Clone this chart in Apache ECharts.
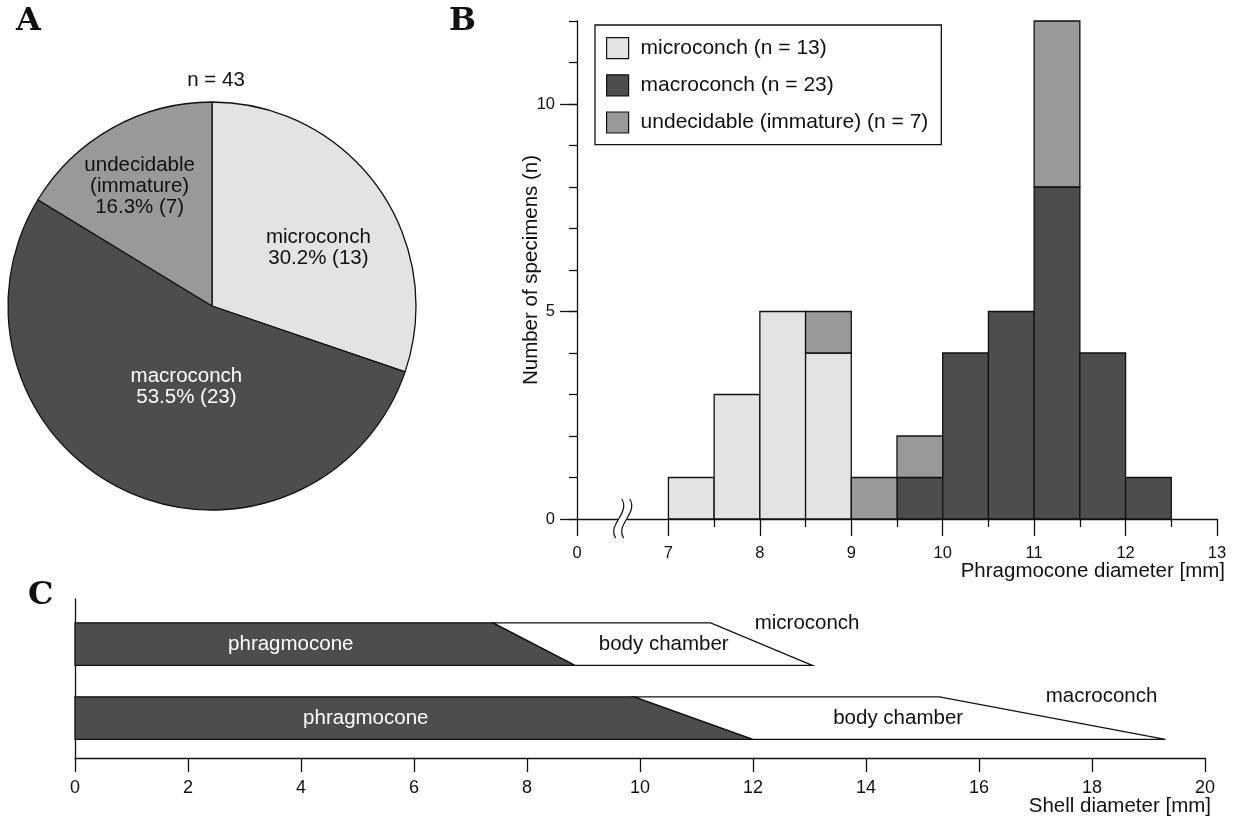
<!DOCTYPE html>
<html><head><meta charset="utf-8">
<script src="https://cdn.jsdelivr.net/npm/echarts@6/dist/echarts.min.js"></script>
<style>html,body{margin:0;padding:0;background:#fff}#c{width:1238px;height:823px}</style>
</head><body><div id="c"></div>
<script>
// ---------- Panel A: pie ----------
const pieNames = ['microconch', 'macroconch', 'undecidable (immature)'];
const pieCounts = [13, 23, 7];

// ---------- Panel B: histogram ----------
const binStarts = [7, 7.5, 8, 8.5, 9, 9.5, 10, 10.5, 11, 11.5, 12];
const binWidth = 0.5;
const microCounts = [1, 3, 5, 4, 0, 0, 0, 0, 0, 0, 0];
const macroCounts = [0, 0, 0, 0, 0, 1, 4, 5, 8, 4, 1];
const undecCounts = [0, 0, 0, 1, 1, 1, 0, 0, 4, 0, 0];
const diamTickValues = [0, 7, 8, 9, 10, 11, 12, 13];
const diamTickLabels = ['0', '7', '8', '9', '10', '11', '12', '13'];
const diamMinorTicks = [7.5, 8.5, 9.5, 10.5, 11.5, 12.5];
const countTickValues = [0, 5, 10];
const countTickLabels = ['0', '5', '10'];
const countMinorTicks = [0, 1, 2, 3, 4, 5, 6, 7, 8, 9, 10, 11, 12];

// ---------- Panel C: shell diagram ----------
const shellTypes = ['microconch', 'macroconch'];
const phragEndTop = [7.4, 9.9];
const phragEndBottom = [8.85, 12.0];
const shellEndTop = [11.25, 15.3];
const shellEndBottom = [13.05, 19.3];
const shellTicks = [0, 2, 4, 6, 8, 10, 12, 14, 16, 18, 20];

// ---------- styles ----------
const FONT = '"Liberation Sans", Arial, Helvetica, sans-serif';
const LETTER_FONT = 'bold 32px "DejaVu Serif", serif';
const INK = '#111';
const C_MICRO = '#e3e3e3', C_MACRO = '#4d4d4d', C_UNDEC = '#999999';
const sum = a => a.reduce((s, v) => s + v, 0);
// the axis break: diameter 0 is drawn one unit left of 7
const axisPos = v => (v === 0 ? 6 : v);

const chart = echarts.init(document.getElementById('c'), null, {renderer: 'canvas'});

function histSeries(label, color, counts, base) {
  const data = [];
  binStarts.forEach((s, i) => {
    if (counts[i] > 0) data.push([s, s + binWidth, base[i], base[i] + counts[i]]);
  });
  return {
    type: 'custom', name: label + ' (n = ' + sum(counts) + ')',
    xAxisIndex: 0, yAxisIndex: 0, data,
    itemStyle: {color},
    encode: {x: [0, 1], y: [2, 3]},
    renderItem(params, api) {
      const p0 = api.coord([api.value(0), api.value(2)]);
      const p1 = api.coord([api.value(1), api.value(3)]);
      return {type: 'rect',
        shape: {x: p0[0], y: p1[1], width: p1[0] - p0[0], height: p0[1] - p1[1]},
        style: {fill: color, stroke: INK, lineWidth: 1.3}};
    }
  };
}
const zeros = binStarts.map(() => 0);
const macroBase = microCounts.slice();
const undecBase = microCounts.map((v, i) => v + macroCounts[i]);

const pieColors = [C_MICRO, C_MACRO, C_UNDEC];
const pieLabelColors = [INK, '#fff', INK];
const pieLabelNudge = [[21, 3], [19, -14], [-21, -28]];

const rowCenter = i => 3.08 - 2 * i;
const rowHalf = 0.575;

const option = {
  animation: false,
  textStyle: {fontFamily: FONT},
  graphic: [
    {type: 'text', x: 16, y: 22, style: {text: 'A', font: LETTER_FONT, fill: INK, align: 'left', verticalAlign: 'middle'}},
    {type: 'text', x: 449, y: 22, style: {text: 'B', font: LETTER_FONT, fill: INK, align: 'left', verticalAlign: 'middle'}},
    {type: 'text', x: 28, y: 596, style: {text: 'C', font: LETTER_FONT, fill: INK, align: 'left', verticalAlign: 'middle'}},
    {type: 'text', x: 216, y: 80, style: {text: 'n = ' + sum(pieCounts), fontSize: 20.5, fontFamily: FONT, fill: INK, align: 'center', verticalAlign: 'middle'}}
  ],
  legend: {
    orient: 'vertical', left: 595, top: 25,
    padding: [12, 13, 11, 11], itemWidth: 22, itemHeight: 21, itemGap: 15,
    borderColor: INK, borderWidth: 1.3, selectedMode: false, icon: 'rect',
    textStyle: {fontSize: 21, color: INK, fontFamily: FONT, padding: [0, 0, 0, 7]},
    data: [
      {name: 'microconch (n = ' + sum(microCounts) + ')', itemStyle: {color: C_MICRO, borderColor: INK, borderWidth: 1.2}},
      {name: 'macroconch (n = ' + sum(macroCounts) + ')', itemStyle: {color: C_MACRO, borderColor: INK, borderWidth: 1.2}},
      {name: 'undecidable (immature) (n = ' + sum(undecCounts) + ')', itemStyle: {color: C_UNDEC, borderColor: INK, borderWidth: 1.2}}
    ]
  },
  grid: [
    {left: 577, top: 21, width: 640, height: 498, outerBoundsMode: 'none', containLabel: false},
    {left: 75, top: 599, width: 1130, height: 159, outerBoundsMode: 'none', containLabel: false}
  ],
  xAxis: [
    {gridIndex: 0, type: 'value', min: 6, max: 13,
      axisLine: {show: true, onZero: false, lineStyle: {color: INK, width: 1.3}},
      axisTick: {show: true, length: 17, customValues: diamTickValues.map(axisPos), lineStyle: {color: INK, width: 1.3}},
      axisLabel: {customValues: diamTickValues.map(axisPos), fontSize: 16.5, color: INK, margin: 26,
        formatter: v => diamTickLabels[diamTickValues.map(axisPos).indexOf(v)]},
      splitLine: {show: false},
      name: 'Phragmocone diameter [mm]', nameLocation: 'end', nameGap: 8, nameMoveOverlap: false,
      nameTextStyle: {fontSize: 20.5, color: INK, align: 'right', verticalAlign: 'top', padding: [42, 0, 0, 0]}
    },
    {gridIndex: 0, type: 'value', min: 6, max: 13, position: 'bottom', offset: 0,
      axisLine: {show: false, onZero: false},
      axisTick: {show: true, length: 8, customValues: diamMinorTicks, lineStyle: {color: INK, width: 1.3}},
      axisLabel: {show: false}, splitLine: {show: false}
    },
    {gridIndex: 1, type: 'value', min: 0, max: 20,
      axisLine: {show: true, onZero: false, lineStyle: {color: INK, width: 1.3}},
      axisTick: {show: true, length: 14, customValues: shellTicks, lineStyle: {color: INK, width: 1.3}},
      axisLabel: {customValues: shellTicks, fontSize: 18, color: INK, margin: 21},
      splitLine: {show: false},
      name: 'Shell diameter [mm]', nameLocation: 'end', nameGap: 6, nameMoveOverlap: false,
      nameTextStyle: {fontSize: 20.5, color: INK, align: 'right', verticalAlign: 'top', padding: [38, 0, 0, 0]}
    }
  ],
  yAxis: [
    {gridIndex: 0, type: 'value', min: 0, max: 12,
      axisLine: {show: true, onZero: false, lineStyle: {color: INK, width: 1.3}},
      axisTick: {show: true, length: 17, customValues: countTickValues, lineStyle: {color: INK, width: 1.3}},
      axisLabel: {customValues: countTickValues, fontSize: 16.5, color: INK, margin: 22,
        formatter: v => countTickLabels[countTickValues.indexOf(v)]},
      splitLine: {show: false},
      name: 'Number of specimens (n)', nameLocation: 'middle', nameGap: 35, nameMoveOverlap: false,
      nameTextStyle: {fontSize: 20.5, color: INK}
    },
    {gridIndex: 0, type: 'value', min: 0, max: 12, position: 'left', offset: 0,
      axisLine: {show: false, onZero: false},
      axisTick: {show: true, length: 8, customValues: countMinorTicks, lineStyle: {color: INK, width: 1.3}},
      axisLabel: {show: false}, splitLine: {show: false}
    },
    {gridIndex: 1, type: 'value', min: 0, max: 4.3,
      axisLine: {show: true, onZero: false, lineStyle: {color: INK, width: 1.3}},
      axisTick: {show: false}, axisLabel: {show: false}, splitLine: {show: false}
    }
  ],
  series: [
    {
      type: 'pie', center: [212, 306], radius: 204, startAngle: 90, clockwise: true,
      percentPrecision: 1, silent: true,
      data: pieNames.map((n, i) => ({name: n, value: pieCounts[i],
        itemStyle: {color: pieColors[i], borderColor: INK, borderWidth: 1.3},
        label: {color: pieLabelColors[i]}})),
      label: {show: true, position: 'inside', fontSize: 20.5, lineHeight: 21, fontFamily: FONT,
        formatter: p => p.name.replace(' (', '\n(') + '\n' + p.percent.toFixed(1) + '% (' + p.value + ')'},
      labelLine: {show: false},
      labelLayout: p => ({dx: pieLabelNudge[p.dataIndex][0], dy: pieLabelNudge[p.dataIndex][1]})
    },
    histSeries('microconch', C_MICRO, microCounts, zeros),
    histSeries('macroconch', C_MACRO, macroCounts, macroBase),
    histSeries('undecidable (immature)', C_UNDEC, undecCounts, undecBase),
    {
      // axis break symbol between 0 and 7
      type: 'custom', xAxisIndex: 0, yAxisIndex: 0, silent: true, clip: false,
      data: [[6.5, 0]],
      renderItem(params, api) {
        const p = api.coord([api.value(0), api.value(1)]);
        const curve = dx => ({type: 'bezierCurve',
          shape: {x1: dx + 3, y1: -20, cpx1: dx + 12, cpy1: -6, cpx2: dx - 12, cpy2: 6, x2: dx - 3, y2: 19},
          style: {stroke: INK, lineWidth: 1.2, fill: null}});
        return {type: 'group', x: p[0], y: p[1], children: [
          {type: 'rect', shape: {x: -4, y: -2, width: 8, height: 4}, style: {fill: '#fff'}},
          curve(-4), curve(4)
        ]};
      }
    },
    {
      type: 'custom', xAxisIndex: 2, yAxisIndex: 2, silent: true, clip: false,
      data: shellTypes.map((t, i) => [i, phragEndTop[i], phragEndBottom[i], shellEndTop[i], shellEndBottom[i]]),
      renderItem(params, api) {
        const i = api.value(0);
        const yc = rowCenter(i), yt = yc + rowHalf, yb = yc - rowHalf;
        const pt = api.value(1), pb = api.value(2), st = api.value(3), sb = api.value(4);
        const c = (x, y) => api.coord([x, y]);
        const phragMid = (pt + pb) / 2, shellMid = (st + sb) / 2;
        const lblPh = c(phragMid * 0.47, yc);
        const lblBc = c(phragMid * 0.43 + shellMid * 0.57, yc);
        const lblType = c(shellMid - 0.12, yt);
        const txt = (pos, text, fill, align) => ({type: 'text',
          style: {text, x: pos[0], y: pos[1], fill, fontSize: 20.5, fontFamily: FONT, align, verticalAlign: 'middle'}});
        return {type: 'group', children: [
          {type: 'polygon', shape: {points: [c(0, yt), c(pt, yt), c(pb, yb), c(0, yb)]},
            style: {fill: C_MACRO, stroke: INK, lineWidth: 1.3}},
          {type: 'polygon', shape: {points: [c(pt, yt), c(st, yt), c(sb, yb), c(pb, yb)]},
            style: {fill: '#fff', stroke: INK, lineWidth: 1.3}},
          txt(lblPh, 'phragmocone', '#fff', 'center'),
          txt(lblBc, 'body chamber', INK, 'center'),
          txt(lblType, shellTypes[i], INK, 'left')
        ]};
      }
    }
  ]
};
chart.setOption(option);
</script>
</body></html>
